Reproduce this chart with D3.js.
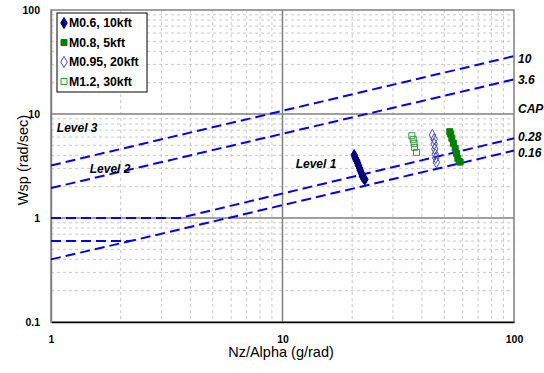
<!DOCTYPE html>
<html>
<head>
<meta charset="utf-8">
<script src="https://cdn.jsdelivr.net/npm/d3@7"></script>
<style>
  body { margin: 0; background: #fff; }
  svg { font-family: "Liberation Sans", Arial, sans-serif; }
</style>
</head>
<body>
<div id="chart"></div>
<script>
// data
const xTicks = [1, 10, 100];
const yTicks = [0.1, 1, 10, 100];

// boundary lines [Nz/Alpha, Wsp]
const capLines = [
  { name: "10",   pts: [[1, 3.2], [100, 36]] },
  { name: "3.6",  pts: [[1, 1.94], [100, 21.5]] },
  { name: "0.28", pts: [[1, 1.0], [3.6, 1.0], [100, 5.84]] },
  { name: "0.16", pts: [[1, 0.6], [2.2, 0.6], [100, 4.45]] },
  { name: "low",  pts: [[1, 0.4], [2.2, 0.6]] }
];

const m06x = [20.4, 20.6, 20.9, 21.1, 21.3, 21.5, 21.7, 21.9, 22.1, 22.4, 22.7];
const m06y = [4.03, 3.78, 3.57, 3.38, 3.20, 3.03, 2.86, 2.71, 2.53, 2.42, 2.35];
const m08x = [52.8, 53.3, 53.9, 54.7, 55.7, 56.4, 57.2, 58.0, 58.5];
const m08y = [6.76, 6.42, 5.84, 5.23, 4.68, 4.19, 3.75, 3.48, 3.45];
const m095x = [44.4, 45.2, 45.2, 45.5, 45.7, 45.9, 46.2];
const m095y = [6.28, 5.71, 5.15, 4.61, 4.10, 3.78, 3.43];
const m12x = [36.2, 36.7, 37.0, 37.2, 37.9];
const m12y = [6.18, 5.71, 5.23, 4.78, 4.28];

const series = [
  { label: "M0.6, 10kft",  xs: m06x,  ys: m06y,  shape: "diamond", fill: "#000080", stroke: "#000080" },
  { label: "M0.8, 5kft",   xs: m08x,  ys: m08y,  shape: "square",  fill: "#008000", stroke: "#008000" },
  { label: "M0.95, 20kft", xs: m095x, ys: m095y, shape: "diamond", fill: "none",    stroke: "#4848c8" },
  { label: "M1.2, 30kft",  xs: m12x,  ys: m12y,  shape: "square",  fill: "none",    stroke: "#339933" }
];

const lineLabels = [
  { text: "10",   y: 34 },
  { text: "3.6",  y: 21.5 },
  { text: "CAP",  y: 11.2 },
  { text: "0.28", y: 6.1 },
  { text: "0.16", y: 4.25 }
];
const levelLabels = [
  { text: "Level 3", x: 1.06, y: 7.3 },
  { text: "Level 2", x: 1.47, y: 2.95 },
  { text: "Level 1", x: 11.4, y: 3.3 }
];

const W = 544, H = 373;
const margin = { top: 10, right: 30, bottom: 51, left: 51 };
const width = W - margin.left - margin.right,
  height = H - margin.top - margin.bottom;

const svg = d3.select("#chart").append("svg")
  .attr("width", W).attr("height", H);
const g = svg.append("g")
  .attr("transform", `translate(${margin.left},${margin.top})`);

const x = d3.scaleLog().domain([1, 100]).range([0, width]);
const y = d3.scaleLog().domain([0.1, 100]).range([height, 0]);

// minor grid
const minorX = [], minorY = [];
[1, 10].forEach(d => { for (let k = 2; k <= 9; k++) minorX.push(d * k); });
[0.1, 1, 10].forEach(d => { for (let k = 2; k <= 9; k++) minorY.push(d * k); });

g.selectAll(".vminor").data(minorX).join("line")
  .attr("x1", d => x(d)).attr("x2", d => x(d))
  .attr("y1", 0).attr("y2", height)
  .attr("stroke", "#c8c8c8").attr("stroke-dasharray", "3,3");
g.selectAll(".hminor").data(minorY).join("line")
  .attr("y1", d => y(d)).attr("y2", d => y(d))
  .attr("x1", 0).attr("x2", width)
  .attr("stroke", "#c8c8c8").attr("stroke-dasharray", "3,3");

// major grid
g.selectAll(".vmajor").data([10]).join("line")
  .attr("x1", d => x(d)).attr("x2", d => x(d))
  .attr("y1", 0).attr("y2", height)
  .attr("stroke", "#808080").attr("stroke-width", 1.5);
g.selectAll(".hmajor").data([1, 10]).join("line")
  .attr("y1", d => y(d)).attr("y2", d => y(d))
  .attr("x1", 0).attr("x2", width)
  .attr("stroke", "#808080").attr("stroke-width", 1.5);

// frame
g.append("rect").attr("width", width).attr("height", height)
  .attr("fill", "none").attr("stroke", "#808080").attr("stroke-width", 1.5);

// axes
const xAxis = g.append("g")
  .attr("transform", `translate(0,${height})`)
  .call(d3.axisBottom(x).tickValues(xTicks).tickSize(0).tickPadding(14).tickFormat(d3.format("")));
const yAxis = g.append("g")
  .call(d3.axisLeft(y).tickValues(yTicks).tickSize(0).tickPadding(11).tickFormat(d => d < 1 ? "0.1" : String(d)));
[xAxis, yAxis].forEach(a => {
  a.select(".domain").attr("stroke", "#000").attr("stroke-width", 1.3);
  a.selectAll("text").attr("font-size", 10.5).attr("font-weight", "bold")
    .attr("fill", "#000").attr("font-family", "Liberation Sans, Arial, sans-serif");
});
yAxis.select(".domain").attr("stroke", "#808080").attr("stroke-width", 1.5);

// CAP boundary lines
const lineGen = d3.line().x(d => x(d[0])).y(d => y(d[1]));
g.selectAll(".cap").data(capLines).join("path")
  .attr("d", d => lineGen(d.pts))
  .attr("fill", "none").attr("stroke", "#0000ff")
  .attr("stroke-width", 2).attr("stroke-dasharray", "10,5");

// data points
const symDiamond = d3.symbol().type(d3.symbolDiamond).size(36);
series.forEach(s => {
  const pts = s.xs.map((v, i) => [v, s.ys[i]]);
  const sel = g.append("g").selectAll("path").data(pts).join("path")
    .attr("transform", d => `translate(${x(d[0])},${y(d[1])})`)
    .attr("fill", s.fill).attr("stroke", s.stroke).attr("stroke-width", 1);
  if (s.shape === "diamond") sel.attr("d", symDiamond);
  else sel.attr("d", "M-3,-3H3V3H-3Z");
});

// line labels on the right
g.selectAll(".llab").data(lineLabels).join("text")
  .attr("x", width + 4).attr("y", d => y(d.y)).attr("dy", "0.35em")
  .attr("font-size", 12).attr("font-weight", "bold").attr("font-style", "italic")
  .text(d => d.text);

// level labels
g.selectAll(".lev").data(levelLabels).join("text")
  .attr("x", d => x(d.x)).attr("y", d => y(d.y)).attr("dy", "0.35em")
  .attr("font-size", 12).attr("font-style", "italic").attr("font-weight", "bold")
  .text(d => d.text);

// legend
const lg = g.append("g").attr("transform", "translate(6,3)");
lg.append("rect").attr("width", 90).attr("height", 79)
  .attr("fill", "#fff").attr("stroke", "#000").attr("stroke-width", 1);
series.forEach((s, i) => {
  const row = lg.append("g").attr("transform", `translate(7,${10 + i * 19.5})`);
  const mk = row.append("path").attr("fill", s.fill === "none" ? "#fff" : s.fill)
    .attr("stroke", s.stroke).attr("stroke-width", 1);
  if (s.shape === "diamond") mk.attr("d", symDiamond);
  else mk.attr("d", "M-3,-3H3V3H-3Z");
  row.append("text").attr("x", 5).attr("dy", "0.36em")
    .attr("font-size", 12.3).attr("font-weight", "bold").text(s.label);
});

// axis titles
svg.append("text")
  .attr("x", 281).attr("y", 357)
  .attr("text-anchor", "middle").attr("font-size", 14.5)
  .text("Nz/Alpha (g/rad)");
svg.append("text")
  .attr("transform", `translate(28,160) rotate(-90)`)
  .attr("text-anchor", "middle").attr("font-size", 14.5)
  .text("Wsp (rad/sec)");
</script>
</body>
</html>
